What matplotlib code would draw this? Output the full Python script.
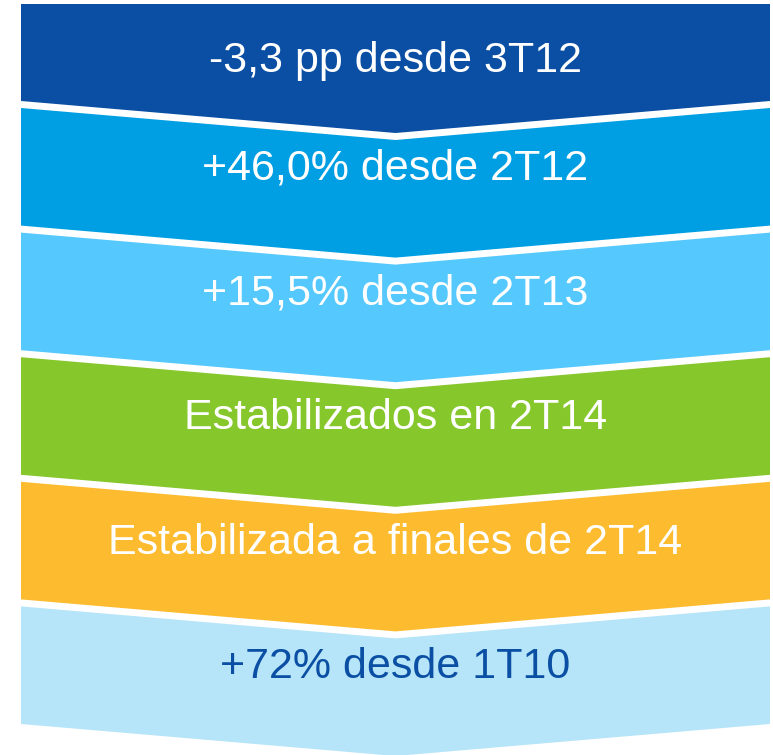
import matplotlib.pyplot as plt
from matplotlib.patches import Polygon

labels = [
    "-3,3 pp desde 3T12",
    "+46,0% desde 2T12",
    "+15,5% desde 2T13",
    "Estabilizados en 2T14",
    "Estabilizada a finales de 2T14",
    "+72% desde 1T10",
]
colors = ["#0A4FA3", "#009FE3", "#55C8FD", "#86C72C", "#FDBB2F", "#B6E4F8"]
text_colors = ["white", "white", "white", "white", "white", "#0A4FA3"]

W, H = 773, 755
fig = plt.figure(figsize=(W / 100, H / 100), dpi=100)
ax = fig.add_axes([0, 0, 1, 1])
ax.set_xlim(0, W)
ax.set_ylim(H, 0)
ax.axis("off")

x0, x1 = 21, 770
xc = (x0 + x1) / 2
depth = 32
pitch = 124.6
gap = 7

for i, (lab, col, tc) in enumerate(zip(labels, colors, text_colors)):
    bottom = 101 + pitch * i
    if i == 0:
        top = 4
        top_c = top
    else:
        top = 101 + pitch * (i - 1) + gap
        top_c = top + depth
    pts = [(x0, top), (xc, top_c), (x1, top), (x1, bottom), (xc, bottom + depth), (x0, bottom)]
    ax.add_patch(Polygon(pts, closed=True, facecolor=col, edgecolor="none"))
    ty = 61 if i == 0 else (top + bottom) / 2 + 2
    ax.text(xc, ty, lab, color=tc, fontsize=31, family="Liberation Sans",
            ha="center", va="center")

fig.savefig("out.png", dpi=100)
